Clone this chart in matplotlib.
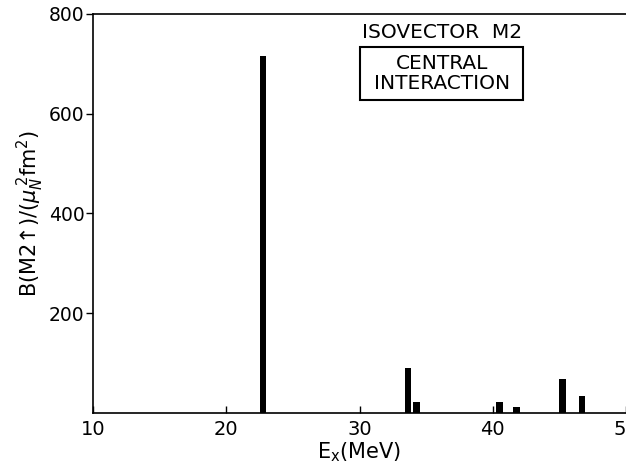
import matplotlib
matplotlib.use("Agg")
import matplotlib.pyplot as plt
from matplotlib.patches import Rectangle

# excitation energies (MeV) and B(M2) strengths
energies = [22.75, 33.65, 34.3, 40.5, 41.8, 45.25, 46.7]
strengths = [715, 90, 23, 22, 12, 69, 35]
xticks = [10, 20, 30, 40, 50]
yticks = [200, 400, 600, 800]

plt.rcParams['font.family'] = ['DejaVu Sans']
plt.rcParams['mathtext.fontset'] = 'dejavusans'

fig = plt.figure(figsize=(6.26, 4.66), dpi=100)
ax = fig.add_axes([0.1486, 0.1137, 0.8514, 0.8563])

ax.bar(energies, strengths, width=0.5, color='black', linewidth=0)

ax.set_xlim(10, 50)
ax.set_ylim(0, 800)
ax.set_xticks(xticks)
ax.set_yticks(yticks)
ax.tick_params(axis='x', direction='in', length=5, width=1, labelsize=14, pad=5)
ax.tick_params(axis='y', direction='out', length=5, width=1, labelsize=13.5, pad=1)
ax.spines['right'].set_visible(False)
for s in ['left', 'bottom', 'top']:
    ax.spines[s].set_linewidth(1.2)

ax.set_xlabel(r'E$_\mathregular{x}$(MeV)', fontsize=15, labelpad=1)
ax.set_ylabel('B(M2\u2191)/(' + r'$\mu_N^{\,2}$' + 'fm' + r'$^2$' + ')', fontsize=15,
              labelpad=2)

ax.text(0.655, 0.953, 'ISOVECTOR  M2', transform=ax.transAxes, ha='center',
        va='center', fontsize=14.5)
ax.add_patch(Rectangle((0.501, 0.784), 0.306, 0.133, transform=ax.transAxes,
                       fc='white', ec='black', lw=1.5))
ax.text(0.654, 0.851, 'CENTRAL\nINTERACTION', transform=ax.transAxes, ha='center',
        va='center', fontsize=14.5, linespacing=1.1)

fig.savefig('out.png', dpi=100)
